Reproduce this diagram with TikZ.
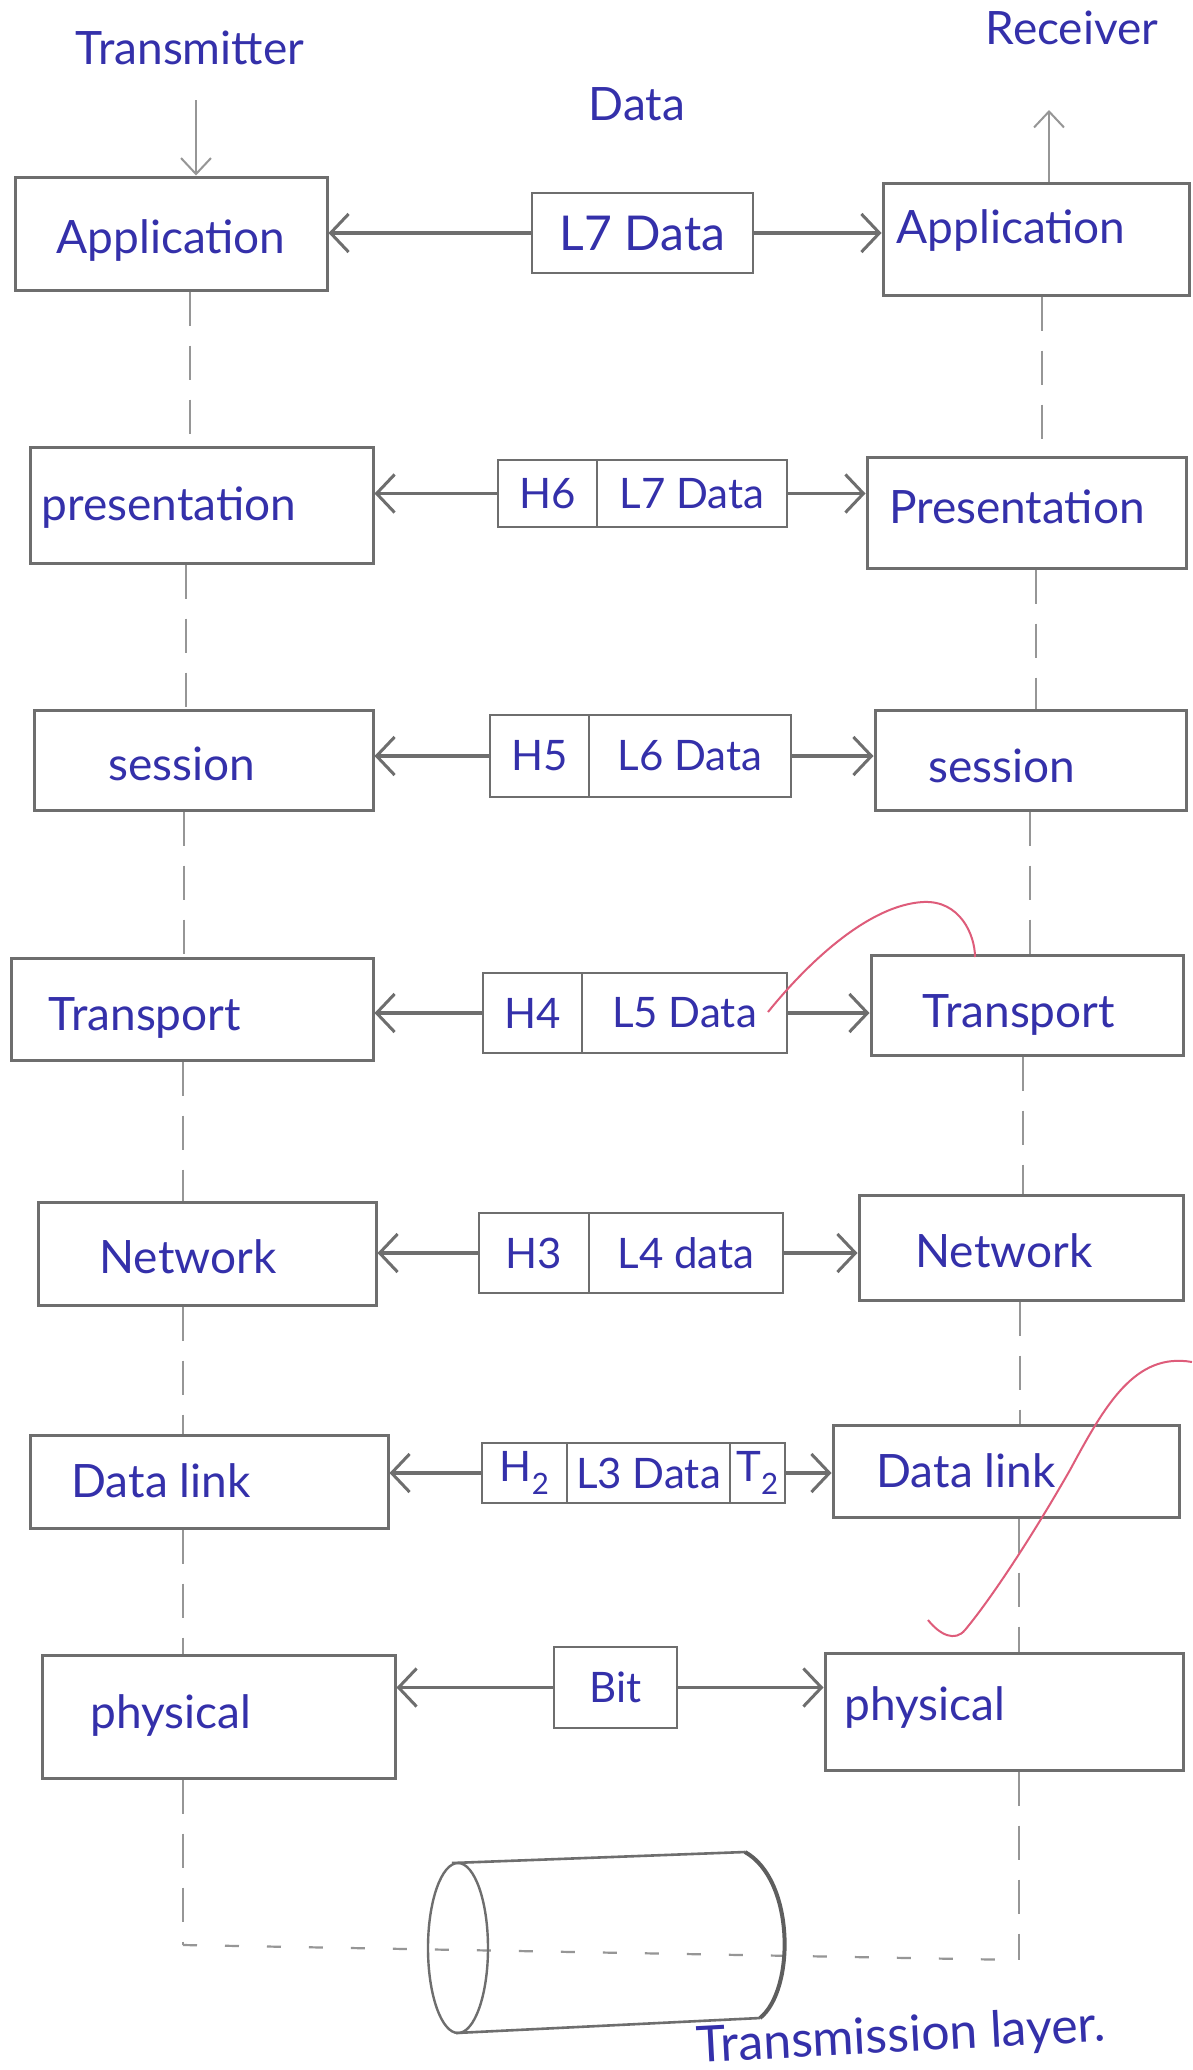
\documentclass[tikz,border=0pt]{standalone}
\usepackage{fontspec}
\setmainfont{Lato}
\usetikzlibrary{arrows.meta}
\definecolor{ink}{RGB}{52,48,170}
\definecolor{pencil}{RGB}{110,110,110}
\definecolor{guide}{RGB}{150,150,150}
\definecolor{redpen}{RGB}{222,92,122}
\begin{document}
\begin{tikzpicture}[x=1pt,y=-1pt,
  frame/.style 2 args={draw=pencil, line width=3pt, rectangle, inner sep=0pt,
    minimum width=#1, minimum height=#2},
  cell/.style 2 args={draw=pencil, line width=2.6pt, rectangle, inner sep=0pt,
    minimum width=#1, minimum height=#2, text=ink, font=\fontsize{42}{46}\selectfont},
  hand/.style={text=ink, font=\fontsize{46}{50}\selectfont, inner sep=0pt, anchor=base},
  link/.style={draw=pencil, line width=3.4pt,
    -{Straight Barb[length=18pt,width=38pt,line width=3pt]}},
  guideline/.style={draw=guide, line width=2pt, dash pattern=on 34pt off 20pt},
  redmark/.style={draw=redpen, line width=2pt}
]
\fill[white] (0,0) rectangle (1192,2070);
\useasboundingbox (0,0) rectangle (1192,2070);

% headings
\node[hand] (tTx) at (190,64) {Transmitter};
\node[hand] (tRx) at (1072,44) {Receiver};
\node[hand] (tData) at (637,120) {Data};

% ---- layer boxes, transmitter side ----
\node[frame={312}{113}] (lA) at (171,233.5) {};
\node[frame={343}{116}] (lP) at (201.5,505) {};
\node[frame={339}{100}] (lS) at (203.5,760) {};
\node[frame={362}{102}] (lT) at (192,1009) {};
\node[frame={338}{103}] (lN) at (207,1253.5) {};
\node[frame={358}{93}]  (lD) at (209,1481.5) {};
\node[frame={353}{123}] (lY) at (218.5,1716.5) {};

% ---- layer boxes, receiver side ----
\node[frame={306}{112}] (rA) at (1036,239) {};
\node[frame={319}{111}] (rP) at (1026.5,512.5) {};
\node[frame={311}{100}] (rS) at (1030.5,760) {};
\node[frame={312}{100}] (rT) at (1027,1005) {};
\node[frame={324}{105}] (rN) at (1021,1247.5) {};
\node[frame={346}{92}]  (rD) at (1006,1471) {};
\node[frame={358}{117}] (rY) at (1004,1711.5) {};

% ---- layer names ----
\node[hand] (lAt) at (171,253) {Application};
\node[hand] (lPt) at (169,520) {presentation};
\node[hand] (lSt) at (182,780) {session};
\node[hand] (lTt) at (145,1030) {Transport};
\node[hand] (lNt) at (188,1273) {Network};
\node[hand] (lDt) at (161,1497) {Data link};
\node[hand] (lYt) at (171,1728) {physical};

\node[hand] (rAt) at (1011,243) {Application};
\node[hand] (rPt) at (1017,523) {Presentation};
\node[hand] (rSt) at (1002,782) {session};
\node[hand] (rTt) at (1019,1027) {Transport};
\node[hand] (rNt) at (1004,1267) {Network};
\node[hand] (rDt) at (966,1487) {Data link};
\node[hand] (rYt) at (925,1720) {physical};

% ---- protocol data units ----
\node[cell={221}{80}, font=\fontsize{48}{52}\selectfont] (dA) at (642.5,233) {L7 Data};

\node[cell={99}{67}]  (hP) at (547.5,493.5) {H6};
\node[cell={190}{67}] (dP) at (692,493.5) {L7 Data};

\node[cell={99}{82}]  (hS) at (539.5,756) {H5};
\node[cell={202}{82}] (dS) at (690,756) {L6 Data};

\node[cell={99}{80}]  (hT) at (532.5,1013) {H4};
\node[cell={205}{80}] (dT) at (684.5,1013) {L5 Data};

\node[cell={110}{80}] (hN) at (534,1253) {H3};
\node[cell={194}{80}] (dN) at (686,1253) {L4 data};

\node[cell={85}{60}]  (hD) at (524.5,1473) {H\textsubscript{2}};
\node[cell={163}{60}] (dD) at (648.5,1473) {L3 Data};
\node[cell={55}{60}]  (tD) at (757.5,1473) {T\textsubscript{2}};

\node[cell={123}{81}] (dY) at (615.5,1687.5) {Bit};

% ---- exchanges between peer layers ----
\draw[link] (dA.west) -- (dA.west -| lA.east);
\draw[link] (dA.east) -- (dA.east -| rA.west);
\draw[link] (hP.west) -- (hP.west -| lP.east);
\draw[link] (dP.east) -- (dP.east -| rP.west);
\draw[link] (hS.west) -- (hS.west -| lS.east);
\draw[link] (dS.east) -- (dS.east -| rS.west);
\draw[link] (hT.west) -- (hT.west -| lT.east);
\draw[link] (dT.east) -- (dT.east -| rT.west);
\draw[link] (hN.west) -- (hN.west -| lN.east);
\draw[link] (dN.east) -- (dN.east -| rN.west);
\draw[link] (hD.west) -- (hD.west -| lD.east);
\draw[link] (tD.east) -- (tD.east -| rD.west);
\draw[link] (dY.west) -- (dY.west -| lY.east);
\draw[link] (dY.east) -- (dY.east -| rY.west);

% ---- vertical flow: down the transmitter, up the receiver ----
\coordinate (txTop) at (196,100);
\coordinate (rxTop) at (1049,110);
\draw[draw=guide, line width=2pt, -{Straight Barb[length=16pt,width=30pt,line width=2pt]}]
  (txTop) -- (lA.north -| txTop);
\draw[draw=guide, line width=2pt, -{Straight Barb[length=16pt,width=30pt,line width=2pt]}]
  (rA.north -| rxTop) -- (rxTop);

\coordinate (gL1) at (190,0);  \coordinate (gR1) at (1042,0);
\coordinate (gL2) at (186,0);  \coordinate (gR2) at (1036,0);
\coordinate (gL3) at (184,0);  \coordinate (gR3) at (1030,0);
\coordinate (gL4) at (183,0);  \coordinate (gR4) at (1023,0);
\coordinate (gR5) at (1020,0); \coordinate (gR6) at (1019,0);

\draw[guideline] (lA.south -| gL1) -- (lP.north -| gL1);
\draw[guideline] (lP.south -| gL2) -- (lS.north -| gL2);
\draw[guideline] (lS.south -| gL3) -- (lT.north -| gL3);
\draw[guideline] (lT.south -| gL4) -- (lN.north -| gL4);
\draw[guideline] (lN.south -| gL4) -- (lD.north -| gL4);
\draw[guideline] (lD.south -| gL4) -- (lY.north -| gL4);

\draw[guideline] (rA.south -| gR1) -- (rP.north -| gR1);
\draw[guideline] (rP.south -| gR2) -- (rS.north -| gR2);
\draw[guideline] (rS.south -| gR3) -- (rT.north -| gR3);
\draw[guideline] (rT.south -| gR4) -- (rN.north -| gR4);
\draw[guideline] (rN.south -| gR5) -- (rD.north -| gR5);
\draw[guideline] (rD.south -| gR6) -- (rY.north -| gR6);

% ---- path through the medium ----
\coordinate (mediumL) at (183,1945);
\coordinate (mediumR) at (1019,1960);
\draw[guideline] (lY.south -| gL4) -- (mediumL);
\draw[guideline] (rY.south -| gR6) -- (mediumR);
\draw[draw=guide, line width=2.2pt, dash pattern=on 14pt off 28pt] (mediumL) -- (mediumR);

% ---- transmission medium (cylinder) ----
\draw[pencil, line width=2.4pt] (458,1948) ellipse [x radius=30, y radius=85];
\draw[pencil, line width=2.6pt] (452,1863) -- (745,1852);
\draw[pencil, line width=2.6pt] (456,2033) -- (760,2018);
\draw[pencil!85!black, line width=4pt]
  (745,1852) .. controls (795,1880) and (795,1990) .. (760,2018);
\node[hand, rotate=3, font=\fontsize{50}{54}\selectfont] (tMed) at (902,2052) {Transmission layer.};

% ---- correction marks in red ----
\draw[redmark] (768,1012) .. controls (810,960) and (870,905) .. (923,902)
  .. controls (960,900) and (975,935) .. (975,957);
\draw[redmark] (1192,1362) .. controls (1135,1352) and (1105,1405) .. (1070,1470)
  .. controls (1030,1540) and (990,1600) .. (965,1630)
  .. controls (955,1642) and (940,1635) .. (928,1620);
\end{tikzpicture}
\end{document}
